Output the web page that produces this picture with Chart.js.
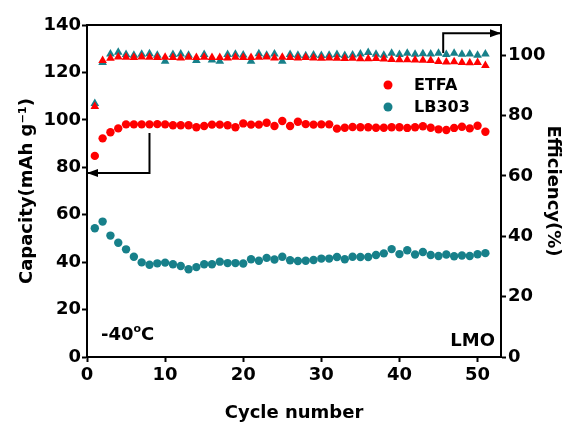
<!DOCTYPE html>
<html>
<head>
<meta charset="utf-8">
<script src="https://cdn.jsdelivr.net/npm/chart.js@4.4.0/dist/chart.umd.min.js"></script>
<style>
  html, body { margin: 0; padding: 0; background: #fff; }
</style>
</head>
<body>
<canvas id="myChart" width="565" height="425"></canvas>
<script>
// cycle numbers
const cycles = [1, 2, 3, 4, 5, 6, 7, 8, 9, 10, 11, 12, 13, 14, 15, 16, 17, 18, 19, 20,
  21, 22, 23, 24, 25, 26, 27, 28, 29, 30, 31, 32, 33, 34, 35, 36, 37, 38, 39, 40,
  41, 42, 43, 44, 45, 46, 47, 48, 49, 50, 51];

// capacity (mAh g-1), left axis
const etfaCapacity = [84.8, 92.2, 94.8, 96.4, 98.1, 98.1, 98.1, 98.1, 98.2, 98.1,
  97.7, 97.7, 97.7, 96.9, 97.4, 98.0, 98.0, 97.7, 96.9, 98.5,
  98.0, 98.0, 98.8, 97.4, 99.5, 97.4, 99.2, 98.2, 98.0, 98.1,
  98.1, 96.3, 96.7, 97.0, 96.9, 96.9, 96.7, 96.7, 96.9, 96.9,
  96.6, 96.9, 97.3, 96.7, 96.0, 95.7, 96.6, 97.1, 96.4, 97.5, 95.0];
const lb303Capacity = [54.3, 57.1, 51.2, 48.2, 45.4, 42.3, 39.9, 38.9, 39.5, 39.8,
  39.1, 38.4, 37.0, 37.9, 39.1, 39.1, 40.2, 39.6, 39.6, 39.4,
  41.2, 40.6, 41.8, 41.1, 42.3, 40.8, 40.5, 40.6, 40.9, 41.5,
  41.5, 42.2, 41.2, 42.3, 42.2, 42.2, 43.0, 43.7, 45.5, 43.4,
  45.0, 43.2, 44.3, 43.0, 42.6, 43.2, 42.5, 42.8, 42.6, 43.3, 43.8];

// coulombic efficiency (%), right axis
const etfaEfficiency = [83.0, 98.2, 99.0, 99.4, 99.3, 99.2, 99.4, 99.3, 99.2, 99.3,
  99.2, 99.1, 99.3, 99.2, 99.3, 99.2, 99.2, 99.1, 99.3, 99.2,
  99.2, 99.3, 99.4, 99.1, 99.3, 99.2, 99.1, 99.2, 99.1, 99.0,
  99.1, 99.0, 98.9, 99.0, 98.8, 98.8, 98.9, 98.7, 98.6, 98.5,
  98.5, 98.4, 98.3, 98.2, 97.9, 97.7, 97.8, 97.6, 97.5, 97.6, 96.6];
const lb303Efficiency = [84.0, 97.6, 100.4, 101.0, 100.2, 100.0, 100.3, 100.5, 100.0, 98.0,
  100.2, 100.4, 100.0, 98.2, 100.2, 98.4, 98.0, 100.2, 100.3, 100.1,
  98.0, 100.5, 100.0, 100.4, 98.0, 100.2, 100.0, 99.8, 100.1, 99.9,
  100.0, 100.2, 99.9, 100.1, 100.4, 100.9, 100.3, 100.0, 100.6, 100.2,
  100.6, 100.3, 100.5, 100.4, 100.6, 100.2, 100.6, 100.3, 100.4, 100.0, 100.4];

// arrows (cycle, axis value)
const capArrow = [[8, 94.5], [8, 77.6], [0, 77.6]];
const effArrow = [[45.6, 100.7], [45.6, 107.3], [53, 107.3]];

const RED = '#ff0000';
const TEAL = '#17808a';
const FONT = 'DejaVu Sans';
const tickFont = { family: FONT, size: 18, weight: 'bold' };

function pts(arr) {
  return cycles.map((c, i) => ({ x: c, y: arr[i] }));
}

function arrow(ctx, p) {
  ctx.beginPath();
  ctx.moveTo(p[0][0], p[0][1]);
  for (let i = 1; i < p.length; i++) ctx.lineTo(p[i][0], p[i][1]);
  ctx.stroke();
  const [x1, y1] = p[p.length - 2];
  const [x2, y2] = p[p.length - 1];
  const a = Math.atan2(y2 - y1, x2 - x1);
  ctx.beginPath();
  ctx.moveTo(x2, y2);
  ctx.lineTo(x2 - 11 * Math.cos(a) + 4 * Math.sin(a), y2 - 11 * Math.sin(a) - 4 * Math.cos(a));
  ctx.lineTo(x2 - 11 * Math.cos(a) - 4 * Math.sin(a), y2 - 11 * Math.sin(a) + 4 * Math.cos(a));
  ctx.closePath();
  ctx.fill();
}

const extras = {
  id: 'extras',
  afterDatasetsDraw(chart) {
    const { ctx, chartArea: a, scales } = chart;
    ctx.save();
    ctx.strokeStyle = '#000';
    ctx.fillStyle = '#000';
    ctx.lineWidth = 2;
    // top frame line
    ctx.beginPath();
    ctx.moveTo(a.left - 1, a.top);
    ctx.lineTo(a.right + 1, a.top);
    ctx.stroke();

    arrow(ctx, capArrow.map(p => [scales.x.getPixelForValue(p[0]), scales.y.getPixelForValue(p[1])]));
    arrow(ctx, effArrow.map(p => [scales.x.getPixelForValue(p[0]), scales.y1.getPixelForValue(p[1])]));

    // legend
    ctx.textBaseline = 'middle';
    ctx.textAlign = 'left';
    ctx.font = 'bold 16px ' + FONT;
    const lx = a.left + 301;
    [['ETFA', RED, 60], ['LB303', TEAL, 82]].forEach(([t, c, dy]) => {
      ctx.fillStyle = c;
      ctx.beginPath();
      ctx.arc(lx, a.top + dy, 4.5, 0, Math.PI * 2);
      ctx.fill();
      ctx.fillStyle = '#000';
      ctx.fillText(t, lx + 26, a.top + dy + 1);
    });

    // labels
    ctx.textBaseline = 'alphabetic';
    ctx.font = 'bold 18px ' + FONT;
    let x = a.left + 14;
    ctx.fillText('-40', x, a.bottom - 17);
    x += ctx.measureText('-40').width;
    ctx.font = 'bold 11px ' + FONT;
    ctx.fillText('o', x, a.bottom - 25);
    x += ctx.measureText('o').width;
    ctx.font = 'bold 18px ' + FONT;
    ctx.fillText('C', x, a.bottom - 17);
    ctx.textAlign = 'right';
    ctx.fillText('LMO', a.right - 6, a.bottom - 11);
    ctx.restore();
  }
};

const axisBase = {
  grid: { drawOnChartArea: false, drawTicks: true, tickLength: 5, tickWidth: 2, color: '#000' },
  border: { display: true, color: '#000', width: 2 }
};

new Chart(document.getElementById('myChart'), {
  type: 'scatter',
  data: {
    datasets: [
      { label: 'ETFA eff', data: pts(etfaEfficiency), yAxisID: 'y1', pointStyle: 'triangle',
        pointRadius: 5, backgroundColor: RED, borderWidth: 0 },
      { label: 'LB303 eff', data: pts(lb303Efficiency), yAxisID: 'y1', pointStyle: 'triangle',
        pointRadius: 5, backgroundColor: TEAL, borderWidth: 0 },
      { label: 'ETFA', data: pts(etfaCapacity), yAxisID: 'y', pointStyle: 'circle',
        pointRadius: 4.2, backgroundColor: RED, borderWidth: 0 },
      { label: 'LB303', data: pts(lb303Capacity), yAxisID: 'y', pointStyle: 'circle',
        pointRadius: 4.2, backgroundColor: TEAL, borderWidth: 0 }
    ]
  },
  options: {
    responsive: false,
    animation: false,
    devicePixelRatio: 1,
    layout: { padding: { top: 25, right: 0, bottom: 0, left: 0 } },
    plugins: { legend: { display: false }, tooltip: { enabled: false } },
    scales: {
      x: {
        ...axisBase,
        type: 'linear', position: 'bottom', min: 0, max: 53,
        ticks: { stepSize: 10, includeBounds: false, color: '#000', font: tickFont, padding: 3, maxRotation: 0 },
        title: { display: true, text: 'Cycle number', color: '#000', font: tickFont, padding: { top: 0, bottom: 1 } },
        afterFit(s) { s.height = 68; }
      },
      y: {
        ...axisBase,
        type: 'linear', position: 'left', min: 0, max: 140,
        ticks: { stepSize: 20, color: '#000', font: tickFont, padding: 1 },
        title: { display: true, text: 'Capacity(mAh g\u207B\u00B9)', color: '#000', font: tickFont, padding: { top: 17, bottom: 0 } },
        afterFit(s) { s.width = 87; }
      },
      y1: {
        ...axisBase,
        type: 'linear', position: 'right', min: 0, max: 110,
        ticks: { stepSize: 20, includeBounds: false, color: '#000', font: tickFont, padding: 2 },
        title: { display: true, text: 'Efficiency(%)', color: '#000', font: tickFont, padding: { top: 2, bottom: 0 } },
        afterFit(s) { s.width = 64; }
      }
    }
  },
  plugins: [extras]
});
</script>
</body>
</html>
